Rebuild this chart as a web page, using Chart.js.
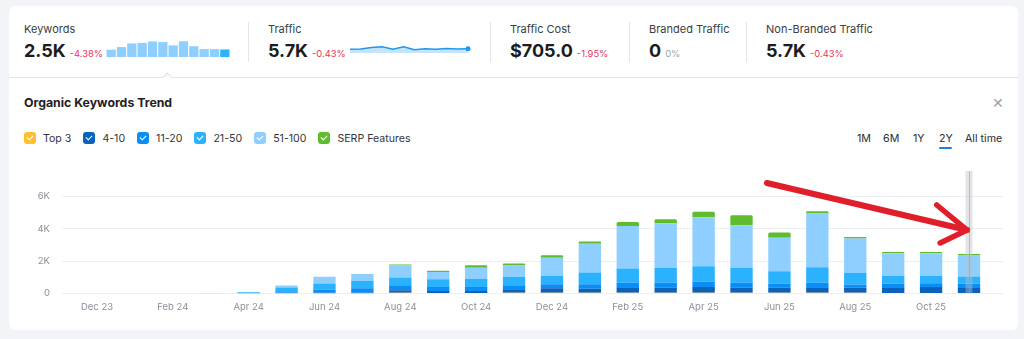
<!DOCTYPE html>
<html>
<head>
<meta charset="utf-8">
<script src="https://cdn.jsdelivr.net/npm/chart.js@4.4.1/dist/chart.umd.min.js"></script>
<style>
html,body{margin:0;padding:0;}
body{width:1024px;height:339px;overflow:hidden;background:#f3f4f8;font-family:Inter,"Noto Sans",sans-serif;position:relative;color:#222;}
.abs{position:absolute;}
#topCard{left:9px;top:6px;width:1009px;height:71px;background:#fff;border-radius:6px 6px 0 0;}
#panel{left:9px;top:77px;width:1009px;height:253px;background:#fff;border-radius:0 0 6px 6px;border-top:1px solid #e1e4ea;box-sizing:border-box;}
#caret{left:164px;top:74px;width:6px;height:6px;background:#fff;border-left:1px solid #dcdfe6;border-top:1px solid #dcdfe6;transform:rotate(45deg);}
.sep{width:1px;height:40px;top:22px;background:#e3e5ea;}
.slabel{font-size:11px;line-height:14px;color:#3b3d42;white-space:nowrap;}
.sval{display:flex;align-items:baseline;white-space:nowrap;}
.sval .v{font-size:18px;line-height:18px;font-weight:700;color:#1c1d21;}
.sval .c{font-size:9.4px;margin-left:4px;color:#e5365a;}
.sval .c.zero{color:#a0a4ab;}
#title{left:24px;top:95.2px;font-size:12.3px;line-height:15px;font-weight:700;color:#1f2024;}
#close{left:992px;top:95px;font-size:14px;line-height:16px;color:#9a9ea6;}
#legend{left:24px;top:131.8px;display:flex;gap:12px;font-size:10.6px;line-height:13px;color:#33353a;}
.li{display:flex;align-items:center;}
.cb{width:12px;height:12px;border-radius:3px;margin-right:7px;position:relative;}
.cb::after{content:"";position:absolute;left:3.5px;top:2px;width:3px;height:5px;border-right:1.5px solid #fff;border-bottom:1.5px solid #fff;transform:rotate(45deg);}
.rng{top:131.8px;font-size:10.7px;line-height:13px;color:#2b2d31;white-space:nowrap;}
#uline{left:939px;top:147px;width:13px;height:2px;background:#1e7fd8;border-radius:1px;}
</style>
</head>
<body>
<div class="abs" id="topCard"></div>
<div class="abs" id="panel"></div>
<div class="abs" id="caret"></div>
<div id="stats"></div>
<div class="abs" id="title">Organic Keywords Trend</div>
<div class="abs" id="close">&#x2715;</div>
<div class="abs" id="legend"></div>
<div id="ranges"></div>
<div class="abs" id="uline"></div>
<canvas id="kwSpark" class="abs" width="124" height="16" style="left:106px;top:41px"></canvas>
<canvas id="trSpark" class="abs" width="126" height="16" style="left:346px;top:41px"></canvas>
<canvas id="main" class="abs" width="1024" height="160" style="left:0;top:160px"></canvas>
<script>
// ---------- data ----------
const statLabels  = ['Keywords', 'Traffic', 'Traffic Cost', 'Branded Traffic', 'Non-Branded Traffic'];
const statValues  = ['2.5K', '5.7K', '$705.0', '0', '5.7K'];
const statChanges = ['-4.38%', '-0.43%', '-1.95%', '0%', '-0.43%'];

const months = ['Dec 23','Jan 24','Feb 24','Mar 24','Apr 24','May 24','Jun 24','Jul 24','Aug 24','Sep 24','Oct 24','Nov 24',
                'Dec 24','Jan 25','Feb 25','Mar 25','Apr 25','May 25','Jun 25','Jul 25','Aug 25','Sep 25','Oct 25','Nov 25'];
const xTickLabels = ['Dec 23','Feb 24','Apr 24','Jun 24','Aug 24','Oct 24','Dec 24','Feb 25','Apr 25','Jun 25','Aug 25','Oct 25'];
const yTicks = [0, 2000, 4000, 6000];
const yTickLabels = ['0', '2K', '4K', '6K'];

const seriesNames = ['Top 3', '4-10', '11-20', '21-50', '51-100', 'SERP Features'];
const top3      = [0,0,0,0,0,10,20,20,40,30,30,40,40,40,50,50,40,40,40,40,40,30,30,30];
const pos4to10  = [0,0,0,0,0,10,30,30,165,125,125,225,290,250,330,310,370,310,310,350,310,350,370,350];
const pos11to20 = [0,0,0,0,20,50,200,270,310,250,250,250,250,290,290,310,310,310,270,270,205,230,230,230];
const pos21to50 = [0,0,0,0,50,300,370,475,475,475,495,515,515,725,885,930,970,930,765,970,725,495,475,450];
const pos51to100= [0,0,0,20,10,125,410,410,740,450,700,700,1115,1775,2620,2745,3035,2640,2065,3325,2125,1380,1380,1300];
const serp      = [0,0,0,0,0,0,0,0,60,80,145,125,165,145,250,250,330,620,330,145,100,85,85,85];

const trafficSpark = [5.44, 5.5, 6.06, 6.31, 5.44, 6.38, 5.25, 5.63, 5.44, 5.69, 5.5, 5.56]; // K visits
const ranges = ['1M', '6M', '1Y', '2Y', 'All time'];
const hoverMonth = 'Nov 25';
// annotation arrow in data units [xIndex, keywords]
const arrowShaft = [[17.67, 6840], [22.95, 3930]];
const arrowHead  = [[22.15, 5480], [22.95, 3930], [22.24, 3130]];

// ---------- styles ----------
const seriesColors = ['#ffbf2e', '#0a62bd', '#0a8df5', '#2ab2ff', '#8fcfff', '#5fbd2d'];
const statX = [24, 268, 510, 649, 766];
const sepX = [248, 490, 629, 746];
const rangeX = [857, 883, 913, 939, 965];

// ---------- HTML parts ----------
const stats = document.getElementById('stats');
statLabels.forEach((l, i) => {
  const a = document.createElement('div');
  a.className = 'abs slabel'; a.style.left = statX[i] + 'px'; a.style.top = '22.3px'; a.textContent = l;
  stats.appendChild(a);
  const b = document.createElement('div');
  b.className = 'abs sval'; b.style.left = statX[i] + 'px'; b.style.top = '41.8px';
  const v = document.createElement('span'); v.className = 'v'; v.textContent = statValues[i];
  const c = document.createElement('span'); c.className = 'c' + (statChanges[i].startsWith('-') ? '' : ' zero'); c.textContent = statChanges[i];
  b.appendChild(v); b.appendChild(c); stats.appendChild(b);
});
sepX.forEach(x => { const s = document.createElement('div'); s.className = 'abs sep'; s.style.left = x + 'px'; stats.appendChild(s); });

const legend = document.getElementById('legend');
seriesNames.forEach((n, i) => {
  const it = document.createElement('div'); it.className = 'li';
  const cb = document.createElement('span'); cb.className = 'cb'; cb.style.background = seriesColors[i];
  const t = document.createElement('span'); t.textContent = n;
  it.appendChild(cb); it.appendChild(t); legend.appendChild(it);
});
const rg = document.getElementById('ranges');
ranges.forEach((r, i) => { const d = document.createElement('div'); d.className = 'abs rng'; d.style.left = rangeX[i] + 'px'; d.textContent = r; rg.appendChild(d); });

// ---------- charts ----------
Chart.defaults.font.family = 'Inter, "Noto Sans", sans-serif';
Chart.defaults.animation = false;

const seriesValues = [top3, pos4to10, pos11to20, pos21to50, pos51to100, serp];
const totals = months.map((_, i) => seriesValues.reduce((s, arr) => s + arr[i], 0));
const kwSpark = totals.slice(-12);

new Chart(document.getElementById('kwSpark'), {
  type: 'bar',
  data: { labels: kwSpark.map((_, i) => i), datasets: [{ data: kwSpark,
    backgroundColor: kwSpark.map((_, i) => i === kwSpark.length - 1 ? '#2ab2ff' : '#8fcfff'),
    categoryPercentage: 1, barPercentage: 0.9, borderWidth: 0 }] },
  options: { responsive: false, devicePixelRatio: 1, events: [],
    plugins: { legend: { display: false }, tooltip: { enabled: false } },
    scales: { x: { display: false }, y: { display: false, min: 0, max: 5200 } } }
});

new Chart(document.getElementById('trSpark'), {
  type: 'line',
  data: { labels: trafficSpark.map((_, i) => i), datasets: [{ data: trafficSpark,
    borderColor: '#1d98f2', borderWidth: 1.5, backgroundColor: '#c6e5fc', fill: 'start', tension: 0,
    pointRadius: trafficSpark.map((_, i) => i === trafficSpark.length - 1 ? 2.5 : 0),
    pointBackgroundColor: '#1d98f2', pointBorderWidth: 0, clip: false }] },
  options: { responsive: false, devicePixelRatio: 1, events: [],
    layout: { padding: { left: 2.3, right: 3.7 } },
    plugins: { legend: { display: false }, tooltip: { enabled: false } },
    scales: { x: { display: false }, y: { display: false, min: 4, max: 7 } } }
});

const hoverLine = {
  id: 'hoverLine',
  afterDatasetsDraw(chart) {
    const ctx = chart.ctx, x = chart.scales.x.getPixelForValue(months.indexOf(hoverMonth));
    const { top, bottom } = chart.chartArea;
    ctx.save();
    ctx.fillStyle = 'rgba(185,190,196,0.42)';
    ctx.fillRect(x - 3.5, top, 7, bottom - top);
    ctx.strokeStyle = 'rgba(150,156,162,0.55)'; ctx.lineWidth = 1;
    ctx.beginPath(); ctx.moveTo(Math.round(x) + 0.5, top); ctx.lineTo(Math.round(x) + 0.5, bottom); ctx.stroke();
    ctx.restore();
  }
};
const arrowPlugin = {
  id: 'arrowAnno',
  afterDraw(chart) {
    const ctx = chart.ctx, xs = chart.scales.x, ys = chart.scales.y;
    const P = p => [xs.getPixelForValue(p[0]), ys.getPixelForValue(p[1])];
    ctx.save();
    ctx.strokeStyle = '#e11f2b'; ctx.lineCap = 'round'; ctx.lineJoin = 'round'; ctx.lineWidth = 6;
    ctx.beginPath();
    let a = P(arrowShaft[0]), b = P(arrowShaft[1]);
    ctx.moveTo(a[0], a[1]); ctx.lineTo(b[0], b[1]); ctx.stroke();
    ctx.lineWidth = 5.5;
    ctx.beginPath();
    arrowHead.forEach((p, i) => { const q = P(p); if (i === 0) ctx.moveTo(q[0], q[1]); else ctx.lineTo(q[0], q[1]); });
    ctx.stroke();
    ctx.restore();
  }
};

new Chart(document.getElementById('main'), {
  type: 'bar',
  data: {
    datasets: seriesNames.map((n, k) => ({
      label: n,
      data: seriesValues[k].map((v, i) => ({ x: i, y: v })),
      backgroundColor: seriesColors[k],
      borderWidth: 0,
      categoryPercentage: 1,
      barPercentage: 0.59,
      borderRadius: k === 5 ? { topLeft: 1.5, topRight: 1.5 } : 0,
      borderSkipped: false
    }))
  },
  options: {
    responsive: false, devicePixelRatio: 1, events: [],
    layout: { padding: { top: 11, right: 21, left: 0, bottom: 0 } },
    plugins: { legend: { display: false }, tooltip: { enabled: false } },
    scales: {
      x: {
        type: 'linear', min: -0.923, max: 23.897, stacked: true, offset: false,
        grid: { display: false, drawTicks: false }, border: { display: false },
        afterBuildTicks: s => { s.ticks = xTickLabels.map(l => ({ value: months.indexOf(l) })); },
        ticks: { callback: v => months[v], autoSkip: false, maxRotation: 0, padding: 8, color: '#8b8f98', font: { size: 9.5 } },
        afterFit: s => { s.height = 26.5; s.paddingLeft = 0; s.paddingRight = 0; }
      },
      y: {
        stacked: true, min: 0, max: 7585,
        afterBuildTicks: s => { s.ticks = yTicks.map(v => ({ value: v })); },
        ticks: { callback: v => yTickLabels[yTicks.indexOf(v)], padding: 12, color: '#8b8f98', font: { size: 9.5 } },
        grid: { color: '#eceef3', drawTicks: false }, border: { display: false },
        afterFit: s => { s.width = 62; s.paddingTop = 0; s.paddingBottom = 0; }
      }
    }
  },
  plugins: [hoverLine, arrowPlugin]
});
</script>
</body>
</html>
